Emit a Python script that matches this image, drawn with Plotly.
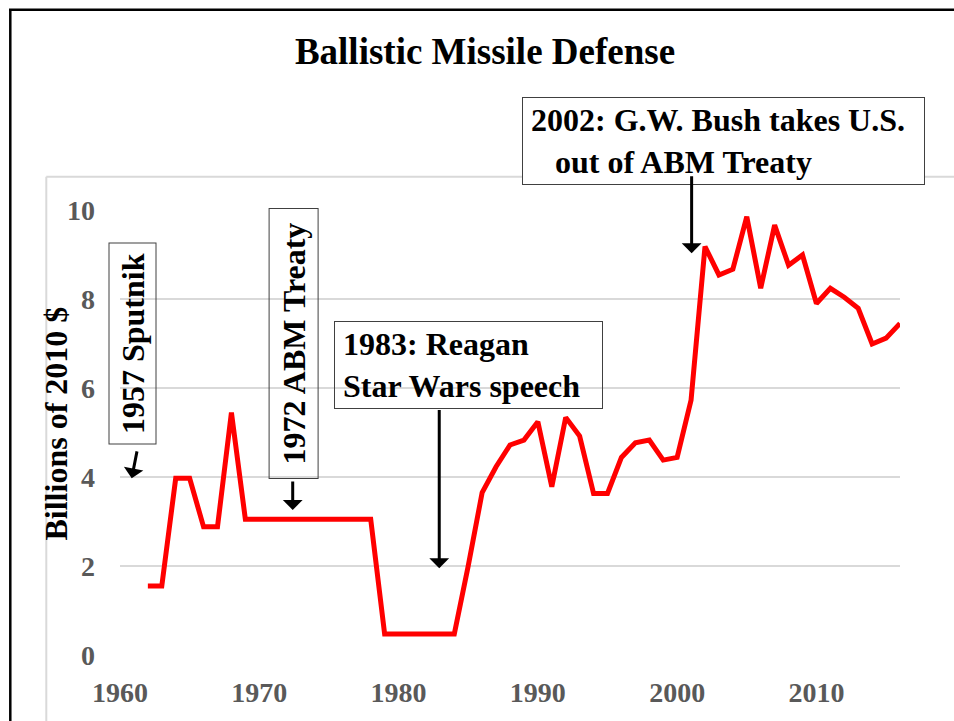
import plotly.graph_objects as go

# ---- data ----
years = list(range(1962, 2017))
bmd_spending = [
    1.55, 1.55, 3.97, 3.97, 2.88, 2.88, 5.45, 3.05,           # 1962-1969
    3.05, 3.05, 3.05, 3.05, 3.05, 3.05, 3.05, 3.05, 3.05,     # 1970-1978
    0.47, 0.47, 0.47, 0.47, 0.47, 0.47,                       # 1979-1984
    2.00, 3.65, 4.23, 4.72, 4.83,                             # 1985-1989
    5.24, 3.78, 5.34, 4.92, 3.63, 3.63, 4.44, 4.77, 4.83, 4.38,  # 1990-1999
    4.44, 5.73, 9.18, 8.54, 8.67, 9.85, 8.24, 9.66, 8.76, 8.99,  # 2000-2009
    7.90, 8.24, 8.04, 7.79, 6.99, 7.12, 7.45,                 # 2010-2016
]
x_tick_vals = [1960, 1970, 1980, 1990, 2000, 2010]
y_tick_vals = [0, 2, 4, 6, 8, 10]

title_text = "Ballistic Missile Defense"
y_title_text = "Billions of 2010 $"

NB = "\u00a0"
# event annotations: text, arrow tail (year, value), arrow head (year, value)
events = [
    ("1957 Sputnik", (1961.24, 4.61), (1960.84, 3.97)),
    ("1972 ABM Treaty", (1972.4, 3.93), (1972.4, 3.26)),
    (NB + "1983: Reagan<br>" + NB + "Star Wars speech", (1982.92, 5.54), (1982.92, 1.95)),
    (NB + "2002: G.W. Bush takes U.S.<br>" + NB * 4 + "out of ABM Treaty",
     (2001.04, 10.79), (2001.04, 9.03)),
]

# ---- layout geometry (pixels) ----
W, H = 954, 721
PL, PR, PT, PB = 120, 900, 210, 655


def px(x):
    return (x - PL) / (PR - PL)


def py(y):
    return (PB - y) / (PB - PT)


FONT = "Liberation Serif, Times New Roman, serif"

fig = go.Figure()
fig.add_trace(go.Scatter(
    x=years, y=bmd_spending, mode="lines",
    line=dict(color="#ff0000", width=5, shape="linear"),
    hoverinfo="x+y", showlegend=False, cliponaxis=False,
))

annotations = []
# y axis title
annotations.append(dict(
    text=y_title_text, xref="paper", yref="paper", x=px(55), y=py(423.5),
    xanchor="center", yanchor="middle", textangle=-90, showarrow=False,
    font=dict(family=FONT, size=32, color="#000000", weight="bold"),
))

# boxes: (center x, center y, outer w, outer h, angle, align, bg)
boxes = [
    (132.5, 344.0, 48.4, 201.7, -90, "center", "rgba(0,0,0,0)"),
    (293.3, 343.7, 50.0, 271.0, -90, "center", "rgba(0,0,0,0)"),
    (468.7, 364.5, 269.3, 87.6, 0, "left", "rgba(0,0,0,0)"),
    (723.7, 140.5, 402.7, 87.6, 0, "left", "#ffffff"),
]
for (text, tail, head), (cx, cy, bw, bh, ang, al, bg) in zip(events, boxes):
    if ang == -90:
        w_, h_ = bh - 2, bw - 2
    else:
        w_, h_ = bw - 2, bh - 2
    annotations.append(dict(
        text=text, xref="paper", yref="paper", x=px(cx), y=py(cy),
        xanchor="center", yanchor="middle", textangle=ang, showarrow=False,
        width=w_, height=h_, align=al, valign="middle",
        bordercolor="#404040", borderwidth=1, borderpad=0, bgcolor=bg,
        font=dict(family=FONT, size=32, color="#000000", weight="bold"),
    ))
    annotations.append(dict(
        text="", x=head[0], y=head[1], xref="x", yref="y",
        ax=tail[0], ay=tail[1], axref="x", ayref="y",
        showarrow=True, arrowhead=1, arrowsize=1.1, arrowwidth=3,
        arrowcolor="#000000", standoff=0, startstandoff=0,
    ))

shapes = [
    # light gray chart-area border (left and top)
    dict(type="line", xref="paper", yref="paper", x0=px(46.3), y0=py(730),
         x1=px(46.3), y1=py(176.7), line=dict(color="#d9d9d9", width=2)),
    dict(type="line", xref="paper", yref="paper", x0=px(46.3), y0=py(176.7),
         x1=px(960), y1=py(176.7), line=dict(color="#d9d9d9", width=2)),
    # black outer border (left and top)
    dict(type="line", xref="paper", yref="paper", x0=px(10.3), y0=py(730),
         x1=px(10.3), y1=py(9.8), line=dict(color="#000000", width=2.5)),
    dict(type="line", xref="paper", yref="paper", x0=px(9), y0=py(9.8),
         x1=px(960), y1=py(9.8), line=dict(color="#000000", width=2.5)),
]

fig.update_layout(
    width=W, height=H,
    margin=dict(l=PL, r=W - PR, t=PT, b=H - PB, pad=0),
    paper_bgcolor="#ffffff", plot_bgcolor="#ffffff",
    title=dict(text=title_text, x=485 / W, xref="container", xanchor="center",
               y=1 - 51 / H, yref="container", yanchor="middle",
               font=dict(family=FONT, size=37, color="#000000", weight="bold")),
    xaxis=dict(range=[1960, 2016], tickvals=x_tick_vals, showgrid=False,
               zeroline=False, showline=False, ticks="", ticklabelstandoff=18,
               tickfont=dict(family=FONT, size=28, color="#595959", weight="bold")),
    yaxis=dict(range=[0, 10], tickvals=y_tick_vals, showgrid=True,
               gridcolor="#d9d9d9", gridwidth=2, zeroline=False, showline=False,
               ticks="", ticklabelstandoff=24,
               tickfont=dict(family=FONT, size=28, color="#595959", weight="bold")),
    annotations=annotations,
    shapes=shapes,
    showlegend=False,
)

fig.write_html(
    "out.html",
    config={"displayModeBar": False},
    post_script="document.body.style.margin='0';document.body.style.overflow='hidden';",
)
